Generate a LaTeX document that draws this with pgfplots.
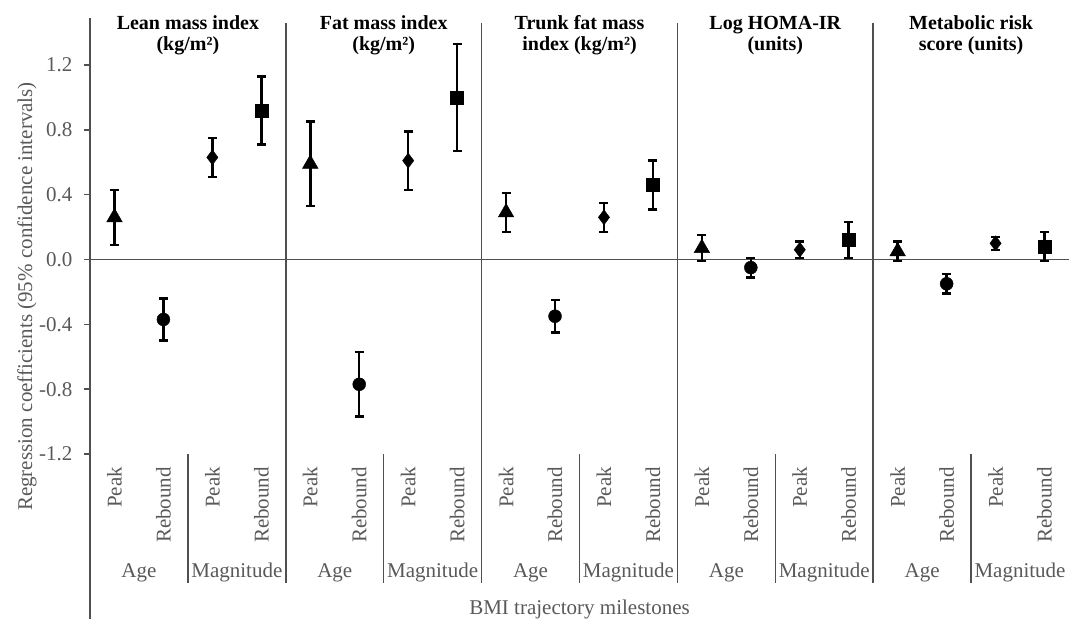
\documentclass[border=0pt]{standalone}
\usepackage{fontspec}
\setmainfont{Liberation Serif}
\usepackage{pgfplots}
\pgfplotsset{compat=1.18}
\usepackage{pgfplotstable}
\definecolor{txtgray}{HTML}{595959}
\definecolor{lngray}{HTML}{505050}

% Age / Peak (triangles)
\pgfplotstableread{
x y ep em
0 0.26 0.17 0.17
4 0.59 0.26 0.26
8 0.29 0.12 0.12
12 0.07 0.08 0.08
16 0.05 0.06 0.06
}\tri
% Age / Rebound (circles)
\pgfplotstableread{
x y ep em
1 -0.37 0.13 0.13
5 -0.77 0.20 0.20
9 -0.35 0.10 0.10
13 -0.05 0.06 0.06
17 -0.15 0.06 0.06
}\cir
% Magnitude / Peak (diamonds)
\pgfplotstableread{
x y ep em
2 0.63 0.12 0.12
6 0.61 0.18 0.18
10 0.26 0.09 0.09
14 0.06 0.05 0.05
18 0.10 0.04 0.04
}\dia
% Magnitude / Rebound (squares)
\pgfplotstableread{
x y ep em
3 0.92 0.21 0.21
7 1.00 0.33 0.33
11 0.46 0.15 0.15
15 0.12 0.11 0.11
19 0.08 0.09 0.09
}\squ

\tikzset{
  lab/.style={font=\fontsize{21}{25}\selectfont, text=txtgray, inner sep=0pt},
  ttl/.style={font=\fontsize{20}{24}\selectfont\bfseries, text=black, inner sep=0pt, anchor=base},
  sep/.style={draw=lngray, line width=1.5pt},
}

\begin{document}
\begin{tikzpicture}
\begin{axis}[
  scale only axis, width=979pt, height=601pt,
  xmin=-0.5, xmax=19.5, ymin=-2.218, ymax=1.49,
  clip=false,
  axis line style={draw=none},
  xtick=\empty,
  ytick={-1.2,-0.8,-0.4,0,0.4,0.8,1.2},
  yticklabels={-1.2,-0.8,-0.4,0.0,0.4,0.8,1.2},
  ytick pos=left, tick align=outside, major tick length=6pt,
  ytick style={lngray, line width=1.5pt},
  yticklabel style={font=\fontsize{21}{25}\selectfont, text=txtgray, xshift=-8pt},
  ylabel={Regression coefficients (95\% confidence intervals)},
  ylabel style={at={(rel axis cs:0,0.5366)}, anchor=center, yshift=63pt, font=\fontsize{21}{25}\selectfont, text=txtgray},
  error bars/y dir=both, error bars/y explicit,
  error bars/error bar style={line width=2.5pt, black},
  error bars/error mark options={rotate=90, line width=2.5pt, mark size=4.5pt, black},
]
% axis and separator lines
\draw[sep] (rel axis cs:0,0) -- (rel axis cs:0,1);
\draw[sep] (axis cs:-0.5,0) -- (axis cs:19.5,0);
\draw[sep] (axis cs:3.5,1.46) -- (axis cs:3.5,-1.996);
\draw[sep] (axis cs:7.5,1.46) -- (axis cs:7.5,-1.996);
\draw[sep] (axis cs:11.5,1.46) -- (axis cs:11.5,-1.996);
\draw[sep] (axis cs:15.5,1.46) -- (axis cs:15.5,-1.996);
\draw[sep] (axis cs:1.5,-1.2) -- (axis cs:1.5,-1.996);
\draw[sep] (axis cs:5.5,-1.2) -- (axis cs:5.5,-1.996);
\draw[sep] (axis cs:9.5,-1.2) -- (axis cs:9.5,-1.996);
\draw[sep] (axis cs:13.5,-1.2) -- (axis cs:13.5,-1.996);
\draw[sep] (axis cs:17.5,-1.2) -- (axis cs:17.5,-1.996);

\addplot[only marks, black, mark=triangle*, mark size=9pt, mark options={fill=black}]
  table[x=x, y=y, y error plus=ep, y error minus=em]{\tri};
\addplot[only marks, black, mark=*, mark size=6.5pt, mark options={fill=black}]
  table[x=x, y=y, y error plus=ep, y error minus=em]{\cir};
\addplot[only marks, black, mark=diamond*, mark size=7.5pt, mark options={fill=black}]
  table[x=x, y=y, y error plus=ep, y error minus=em]{\dia};
\addplot[only marks, black, mark=square*, mark size=6.5pt, mark options={fill=black}]
  table[x=x, y=y, y error plus=ep, y error minus=em]{\squ};

% category labels
\pgfplotsinvokeforeach{0,2,4,6,8,10,12,14,16,18}{
  \node[lab, rotate=90, anchor=east] at (axis cs:#1,-1.28) {Peak};
}
\pgfplotsinvokeforeach{1,3,5,7,9,11,13,15,17,19}{
  \node[lab, rotate=90, anchor=east] at (axis cs:#1,-1.28) {Rebound};
}
\pgfplotsinvokeforeach{0.5,4.5,8.5,12.5,16.5}{
  \node[lab, anchor=base] at (axis cs:#1,-1.965) {Age};
}
\pgfplotsinvokeforeach{2.5,6.5,10.5,14.5,18.5}{
  \node[lab, anchor=base] at (axis cs:#1,-1.965) {Magnitude};
}
\node[lab, anchor=base] at (axis cs:9.5,-2.193) {BMI trajectory milestones};

% panel titles
\node[ttl] at (axis cs:1.5,1.419) {Lean mass index};
\node[ttl] at (axis cs:1.5,1.292) {(kg/m²)};
\node[ttl] at (axis cs:5.5,1.419) {Fat mass index};
\node[ttl] at (axis cs:5.5,1.292) {(kg/m²)};
\node[ttl] at (axis cs:9.5,1.419) {Trunk fat mass};
\node[ttl] at (axis cs:9.5,1.292) {index (kg/m²)};
\node[ttl] at (axis cs:13.5,1.419) {Log HOMA-IR};
\node[ttl] at (axis cs:13.5,1.292) {(units)};
\node[ttl] at (axis cs:17.5,1.419) {Metabolic risk};
\node[ttl] at (axis cs:17.5,1.292) {score (units)};
\end{axis}
\pgfresetboundingbox
\path[use as bounding box] (-90pt,0pt) rectangle (979pt,619pt);
\end{tikzpicture}
\end{document}
